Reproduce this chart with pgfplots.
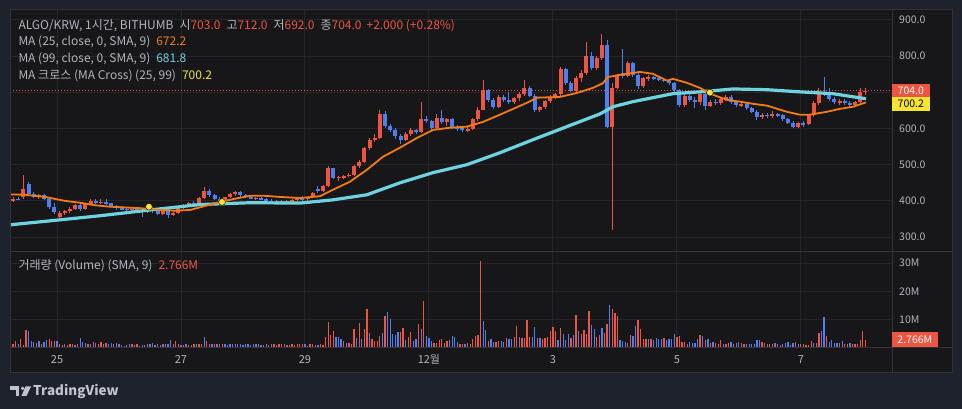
\documentclass[border=0pt]{standalone}
\usepackage{pgfplots}
\pgfplotsset{compat=1.18}
\usepackage{pgfplotstable}
\usepackage{fontspec}
\setmainfont{Noto Sans CJK KR}
\newcommand{\fs}[1]{\fontsize{#1}{#1}\selectfont}
\definecolor{bgout}{HTML}{1E222D}
\definecolor{bgin}{HTML}{17171A}
\definecolor{gridc}{HTML}{26262A}
\definecolor{sepc}{HTML}{323237}
\definecolor{txt}{HTML}{B2B5BE}
\definecolor{cred}{HTML}{EE5541}
\definecolor{cblue}{HTML}{4B80EE}
\definecolor{corange}{HTML}{F57C14}
\definecolor{ccyan}{HTML}{6CD3DF}
\definecolor{cyellow}{HTML}{F5E52E}

\pgfplotstableread[row sep=\\]{
o h l c\\
400 410 398 406\\406 412 402 404\\410 472 405 432\\448 452 416 420\\420 425 408 412\\412 420 405 415\\415 418 402 405\\405 408 378 382\\382 395 365 370\\355 372 352 368\\
368 375 362 372\\372 382 368 378\\378 392 375 388\\388 398 372 378\\378 395 375 392\\392 405 388 400\\400 404 392 396\\396 405 392 398\\398 404 390 393\\393 395 382 386\\
386 390 376 380\\380 386 374 378\\378 382 372 376\\376 381 371 379\\379 383 368 372\\372 378 356 370\\370 380 366 377\\377 383 368 372\\375 378 362 365\\365 382 360 378\\
378 380 354 362\\362 372 358 368\\368 385 365 382\\382 392 378 390\\390 398 385 395\\395 400 390 392\\392 412 390 408\\408 438 404 428\\428 432 410 415\\415 418 402 405\\
405 410 396 400\\400 412 398 410\\410 422 408 420\\420 428 414 424\\424 428 412 415\\415 418 408 410\\410 413 404 407\\407 412 403 409\\409 412 402 404\\404 408 398 401\\
401 404 396 399\\399 403 395 401\\401 403 395 397\\397 402 394 399\\399 404 396 402\\402 410 399 408\\408 413 400 404\\404 412 401 410\\410 425 408 422\\432 440 422 426\\
426 445 424 440\\440 496 438 490\\490 492 460 464\\464 470 455 466\\466 472 460 468\\470 476 465 472\\472 500 468 496\\496 512 490 508\\508 548 505 545\\545 575 540 568\\
568 585 562 575\\575 650 572 640\\640 648 602 606\\606 612 590 595\\595 600 572 578\\578 585 556 568\\568 590 565 585\\585 600 580 595\\595 598 584 590\\590 674 588 625\\
625 635 615 620\\620 624 596 600\\600 640 598 630\\630 650 612 618\\618 630 608 626\\626 630 598 602\\602 610 592 600\\600 606 590 596\\596 604 590 598\\598 630 596 625\\
625 660 620 652\\652 735 650 706\\706 710 672 678\\678 684 655 660\\660 692 656 688\\688 692 672 678\\678 700 668 672\\672 688 668 684\\684 700 675 696\\696 734 690 712\\
712 716 686 690\\690 694 646 650\\650 662 645 658\\658 678 655 675\\675 692 670 688\\688 698 680 694\\694 770 690 764\\764 768 720 726\\726 730 700 704\\704 745 700 740\\
740 760 728 752\\752 840 748 800\\800 812 760 766\\766 800 762 795\\795 860 790 830\\830 845 600 605\\605 725 320 712\\712 750 708 745\\752 818 740 746\\746 785 742 780\\
780 784 742 748\\748 752 710 716\\716 742 712 738\\738 748 732 742\\742 746 733 738\\738 742 730 735\\735 740 728 732\\732 736 720 725\\725 728 702 706\\706 708 660 665\\
665 696 660 690\\690 694 672 678\\678 688 656 672\\672 702 666 696\\696 700 652 662\\662 678 658 674\\674 682 665 670\\670 684 666 680\\680 692 676 688\\688 692 668 672\\
672 676 660 664\\664 672 658 668\\668 670 652 656\\656 660 642 646\\646 650 622 632\\632 642 626 638\\638 642 630 634\\634 648 630 640\\640 644 632 636\\636 640 620 625\\
625 628 612 616\\616 620 602 605\\605 618 600 614\\614 620 605 612\\612 640 610 636\\636 676 632 670\\670 712 666 702\\702 742 690 696\\696 712 676 680\\680 688 668 672\\
672 680 665 676\\676 680 666 670\\670 676 660 664\\664 676 660 672\\672 712 670 700\\703 712 692 704\\
}\candles

\pgfplotstableread[row sep=\\]{
v d\\
1.0 0\\1.3 1\\2.3 1\\1.3 0\\2.8 1\\0.8 1\\6.3 1\\5.7 0\\2.3 0\\1.8 0\\
1.4 1\\2.2 0\\1.2 1\\2.0 0\\2.6 0\\3.0 1\\2.2 1\\2.2 1\\2.2 0\\1.0 1\\
0.8 1\\1.0 0\\0.7 1\\1.0 1\\1.2 1\\0.8 0\\1.2 1\\3.3 0\\2.0 0\\1.5 0\\
1.2 1\\1.2 0\\1.8 1\\1.7 0\\1.1 1\\1.8 1\\1.0 0\\1.5 1\\1.0 0\\1.5 0\\
1.3 0\\1.5 1\\1.0 0\\0.7 0\\0.6 0\\0.8 1\\1.0 0\\1.3 1\\0.8 0\\1.2 1\\
0.6 1\\0.8 0\\0.8 0\\1.3 1\\1.2 0\\1.4 0\\0.8 1\\1.3 0\\0.9 1\\1.1 0\\
1.3 1\\1.0 0\\2.7 0\\1.0 1\\2.2 1\\1.0 1\\0.9 0\\0.8 1\\1.2 0\\0.9 1\\
0.8 1\\1.3 1\\1.0 0\\1.1 1\\1.2 1\\3.6 0\\2.4 1\\1.2 1\\1.3 0\\1.3 0\\
1.0 1\\1.2 0\\1.1 1\\1.3 0\\0.9 0\\1.2 0\\1.0 0\\1.0 1\\1.1 0\\1.2 0\\
0.9 0\\1.0 0\\1.2 0\\0.8 1\\1.1 0\\1.2 0\\1.0 1\\0.8 0\\0.9 0\\1.3 1\\
0.9 1\\1.2 0\\1.0 1\\0.8 0\\1.0 1\\1.1 1\\1.0 1\\0.9 0\\0.8 1\\1.0 1\\
0.8 1\\1.0 1\\1.1 1\\1.1 1\\1.1 0\\0.5 1\\1.1 1\\1.1 1\\0.7 0\\0.7 0\\
1.1 1\\0.7 1\\3.6 1\\8.9 1\\4.3 1\\5.7 1\\3.6 0\\3.8 0\\2.9 0\\2.4 1\\
1.7 0\\1.4 1\\1.1 1\\6.4 1\\3.3 0\\8.6 1\\2.9 0\\6.4 1\\13.6 1\\5.0 0\\
2.9 1\\2.1 1\\2.1 1\\3.9 1\\5.0 0\\11.1 1\\12.5 0\\10.0 0\\4.6 0\\4.3 0\\
5.4 0\\5.4 1\\6.8 1\\2.5 0\\3.6 1\\5.4 1\\2.1 0\\2.9 0\\8.2 1\\6.4 0\\
16.4 1\\3.9 0\\3.2 0\\2.1 0\\1.4 1\\1.4 1\\2.5 1\\2.9 1\\1.4 1\\2.1 1\\
2.5 0\\3.9 0\\3.6 0\\1.8 0\\1.1 1\\1.1 1\\1.1 0\\1.4 1\\1.1 1\\2.9 1\\
3.9 1\\4.3 1\\30.7 1\\9.3 0\\6.1 0\\2.1 1\\2.9 0\\1.8 0\\1.8 1\\2.1 1\\
2.1 0\\1.8 0\\3.2 1\\2.9 0\\2.9 0\\3.6 1\\7.5 1\\3.6 0\\3.2 1\\3.2 1\\
9.6 1\\3.6 1\\3.6 0\\7.1 0\\3.2 1\\3.2 0\\2.9 1\\3.2 1\\3.6 1\\5.7 1\\
7.1 1\\5.7 1\\2.5 0\\6.8 1\\4.6 0\\2.5 0\\4.6 0\\3.2 1\\4.3 0\\11.4 1\\
5.7 0\\4.6 1\\6.1 1\\4.6 1\\12.9 1\\7.9 0\\6.4 0\\3.6 1\\4.3 1\\6.8 0\\
5.0 1\\8.2 1\\15.0 0\\13.6 1\\12.1 1\\11.1 1\\2.5 0\\2.1 0\\1.8 0\\1.4 1\\
4.3 1\\3.9 0\\7.5 0\\9.6 1\\6.4 1\\2.9 1\\2.9 1\\2.9 0\\2.9 1\\2.5 0\\
3.2 0\\2.9 0\\2.9 0\\3.2 1\\2.5 0\\2.9 0\\2.9 0\\4.6 0\\3.6 1\\3.9 1\\
1.8 1\\1.8 1\\1.1 1\\1.8 0\\1.4 0\\1.4 0\\2.9 0\\4.3 1\\3.9 0\\2.5 1\\
2.9 0\\1.4 1\\1.8 0\\1.4 1\\1.1 1\\2.5 1\\1.1 0\\1.1 1\\1.4 1\\1.8 0\\
1.1 1\\1.4 0\\1.8 0\\1.4 1\\1.1 1\\1.1 0\\1.1 0\\1.1 0\\1.1 0\\2.5 0\\
2.5 0\\1.8 1\\1.4 1\\1.1 0\\1.1 1\\1.1 1\\1.4 0\\1.1 1\\0.7 1\\1.1 0\\
1.4 0\\1.8 0\\0.7 0\\1.4 0\\1.8 1\\1.1 0\\1.1 1\\1.1 1\\0.7 1\\0.7 1\\
2.1 1\\1.4 0\\1.4 1\\5.0 1\\5.7 0\\10.7 0\\3.9 1\\1.8 0\\2.5 0\\1.4 0\\
1.4 0\\1.4 1\\2.1 0\\1.1 1\\1.1 1\\1.4 0\\1.1 1\\1.1 1\\1.1 1\\2.5 1\\
5.7 1\\2.77 1\\
}\vols

\pgfplotsset{tvaxis/.style={
  scale only axis, width=882pt,
  xmin=-18.2, xmax=323.3,
  axis line style={draw=none},
  major tick length=0pt,
  tick style={draw=none},
  xtick={0,48,96,144,192,240,288},
  xmajorgrids, ymajorgrids,
  major grid style={draw=gridc, line width=0.9pt},
  ticklabel style={text=txt},
  yticklabel pos=right,
  yticklabel style={anchor=west, inner sep=0pt, xshift=7pt, font=\fs{10.5}},
}}

\begin{document}
\begin{tikzpicture}[x=1pt,y=1pt]
\fill[bgout] (0,0) rectangle (962,409);
\fill[bgin] (10,36) rectangle (952,399);

% ---------- price pane ----------
\begin{axis}[tvaxis,
  at={(10pt,157pt)}, anchor=south west, height=242pt,
  ymin=259, ymax=927,
  ytick={300,400,500,600,700,800,900},
  yticklabels={300.0,400.0,500.0,600.0,700.0,800.0,900.0},
  xticklabels={,,,,,,},
]
% wicks
\addplot[draw=none, mark=none, forget plot,
  error bars/.cd, y dir=plus, y explicit, error mark=none,
  error bar style={line width=1pt, draw=cred}]
  table[x expr={\thisrow{c}>=\thisrow{o} ? 2*\coordindex-17 : nan}, y=l,
        y error plus expr={\thisrow{h}-\thisrow{l}}] {\candles};
\addplot[draw=none, mark=none, forget plot,
  error bars/.cd, y dir=plus, y explicit, error mark=none,
  error bar style={line width=1pt, draw=cblue}]
  table[x expr={\thisrow{c}<\thisrow{o} ? 2*\coordindex-17 : nan}, y=l,
        y error plus expr={\thisrow{h}-\thisrow{l}}] {\candles};
% bodies
\addplot[draw=none, mark=none, forget plot,
  error bars/.cd, y dir=both, y explicit, error mark=none,
  error bar style={line width=4pt, draw=cred}]
  table[x expr={\thisrow{c}>=\thisrow{o} ? 2*\coordindex-17 : nan},
        y expr={(\thisrow{o}+\thisrow{c})/2},
        y error expr={max(abs(\thisrow{c}-\thisrow{o})/2,1.0)}] {\candles};
\addplot[draw=none, mark=none, forget plot,
  error bars/.cd, y dir=both, y explicit, error mark=none,
  error bar style={line width=4pt, draw=cblue}]
  table[x expr={\thisrow{c}<\thisrow{o} ? 2*\coordindex-17 : nan},
        y expr={(\thisrow{o}+\thisrow{c})/2},
        y error expr={max(abs(\thisrow{c}-\thisrow{o})/2,1.0)}] {\candles};
% current price line
\addplot[cred, line width=0.8pt, dash pattern=on 1pt off 2pt] coordinates {(-18.2,704) (323.3,704)};
% MA 99
\addplot[ccyan, line width=3.2pt, line join=round] coordinates {
(-18.2,334) (-2.7,345) (16.6,359) (36,375) (55.4,390) (74.7,395) (94.1,394) (106.9,403)
(120,417) (132.8,450) (145.6,478) (158.7,500) (171.5,533) (184.3,569) (197.4,605)
(210.2,640) (215.3,660) (223,674) (230.7,685) (238.5,696) (248.9,701) (261.7,709)
(274.9,707) (287.6,701) (300.4,696) (313.2,682)};
% MA 25
\addplot[corange, line width=1.8pt, line join=round] coordinates {
(-18.2,418) (-12.4,417) (-4.6,411) (3.1,400) (8.9,395) (14.7,388) (20.5,384) (32.1,380)
(39.9,375) (45.7,373) (51.5,375) (57.3,386) (63.1,397) (68.9,406) (74.7,414) (80.5,414)
(86.3,411) (94.1,408) (101.8,413) (106.9,431) (113.4,453) (120,486) (126.2,522)
(132.8,547) (139.4,574) (145.6,596) (152.1,602) (158.7,605) (164.9,618) (171.5,638)
(182,671) (186,685) (194.7,687) (201.3,698) (207.5,712) (211.4,725) (213.3,742)
(218,748) (225.7,756) (230.7,751) (236.2,732) (238.5,737) (243.9,726) (248.9,712)
(254,693) (259.4,679) (264.4,674) (269.5,668) (274.9,663) (282.6,646) (287.6,638)
(291.5,638) (298.1,646) (303.1,654) (308.2,660) (313.2,672)};
% MA cross
\addplot[only marks, mark=*, mark size=3.4pt, mark options={fill=cyellow, draw=none}]
  coordinates {(35.6,384) (63.9,397) (252.8,699)};
\end{axis}

% ---------- volume pane ----------
\begin{axis}[tvaxis,
  at={(10pt,61pt)}, anchor=south west, height=96pt,
  ymin=-0.25, ymax=34,
  ytick={10,20,30}, yticklabels={10M,20M,30M},
  xticklabels={25,27,29,12월,3,5,7},
  xticklabel style={anchor=base, yshift=-16pt, font=\fs{11}},
]
\addplot[ycomb, cred, line width=1.3pt, mark=none]
  table[x expr={\thisrow{d}==1 ? \coordindex-18 : nan}, y=v] {\vols};
\addplot[ycomb, cblue, line width=1.3pt, mark=none]
  table[x expr={\thisrow{d}==0 ? \coordindex-18 : nan}, y=v] {\vols};
\end{axis}

% separators and frame
\draw[sepc, line width=1pt] (10,157) -- (952,157);
\draw[sepc, line width=1pt] (10,61) -- (952,61);
\draw[sepc, line width=1pt] (892,36) -- (892,399);
\draw[sepc, line width=1pt] (10,36) rectangle (952,399);

% price scale labels
\fill[cred] (892,312) rectangle (929.5,325);
\node[text=white, font=\fs{10.5}, inner sep=0pt] at (910.8,318.5) {704.0};
\fill[cyellow] (892,298) rectangle (929.5,312);
\node[text=black, font=\fs{10.5}, inner sep=0pt] at (910.8,305) {700.2};
\fill[cred] (892,62) rectangle (937.7,77);
\node[text=white, font=\fs{10.5}, inner sep=0pt] at (914.8,69.5) {2.766M};

% legends
\node[anchor=base west, inner sep=0pt, text=txt, font=\fs{12}] at (18.3,379.7)
 {ALGO/KRW, 1시간, BITHUMB\hspace{6pt}시\textcolor{cred}{703.0}\hspace{6pt}고\textcolor{cred}{712.0}\hspace{6pt}저\textcolor{cred}{692.0}\hspace{6pt}종\textcolor{cred}{704.0}\hspace{5pt}\textcolor{cred}{+2.000 (+0.28\%)}};
\node[anchor=base west, inner sep=0pt, text=txt, font=\fs{12}] at (18.3,363)
 {MA (25, close, 0, SMA, 9)\hspace{6pt}\textcolor{corange}{672.2}};
\node[anchor=base west, inner sep=0pt, text=txt, font=\fs{12}] at (18.3,346.3)
 {MA (99, close, 0, SMA, 9)\hspace{6pt}\textcolor{ccyan}{681.8}};
\node[anchor=base west, inner sep=0pt, text=txt, font=\fs{12}] at (18.3,329)
 {MA 크로스 (MA Cross) (25, 99)\hspace{6pt}\textcolor{cyellow}{700.2}};
\node[anchor=base west, inner sep=0pt, text=txt, font=\fs{12}] at (18.3,139)
 {거래량 (Volume) (SMA, 9)\hspace{6pt}\textcolor{cred}{2.766M}};

% TradingView logo
\fill[txt!80!white] (10,22.5) rectangle (19,19);
\fill[txt!80!white] (15.5,22.5) rectangle (19,13);
\fill[txt!80!white] (22.6,20.6) circle (1.8);
\fill[txt!80!white] (25.5,22.5) -- (31,22.5) -- (26.5,13) -- (21.5,13) -- cycle;
\node[anchor=base west, inner sep=0pt, text=txt!80!white, font=\fs{13.5}\bfseries] at (33,13.2) {TradingView};
\end{tikzpicture}
\end{document}
